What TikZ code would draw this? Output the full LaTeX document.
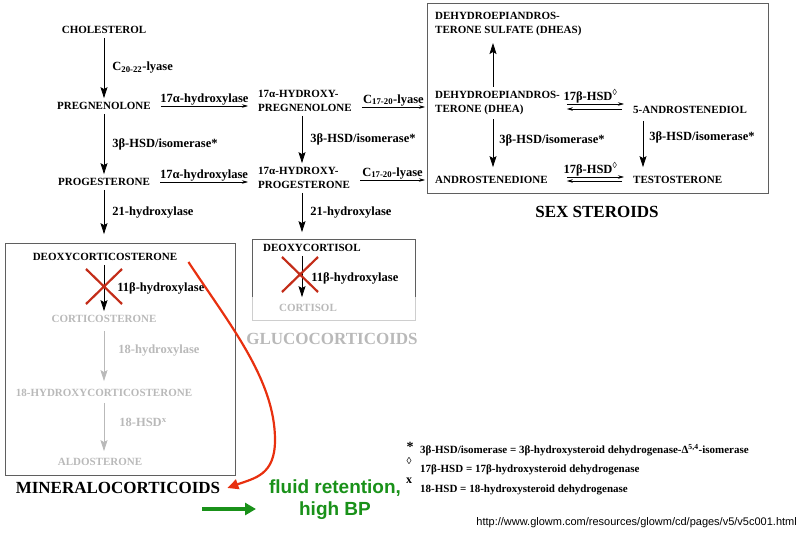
\documentclass[tikz,border=0pt]{standalone}
\usepackage{fontspec}
\setmainfont{Liberation Serif}
\newfontfamily\urlfont{Liberation Sans}
\usetikzlibrary{arrows.meta}
\definecolor{faded}{RGB}{185,185,185}
\definecolor{boxgray}{RGB}{95,95,95}
\definecolor{xred}{RGB}{195,45,25}
\definecolor{cred}{RGB}{232,48,15}
\definecolor{bpgreen}{RGB}{25,145,25}

\begin{document}
\begin{tikzpicture}[x=1pt,y=-1pt,
  cmpd/.style={font=\fontsize{11}{14}\selectfont\bfseries, inner sep=1pt},
  enz/.style={font=\fontsize{12.5}{14}\selectfont\bfseries, inner sep=1pt},
  note/.style={font=\fontsize{11}{13}\selectfont\bfseries, inner sep=0pt, anchor=west},
  grp/.style={font=\fontsize{17}{19}\selectfont\bfseries, inner sep=1pt},
  varr/.style={-{Stealth[length=11pt,width=7pt,inset=2pt]}, line width=0.8pt, shorten <=3pt, shorten >=3pt},
  harr/.style={-{Stealth[length=6pt,width=3.5pt]}, line width=0.6pt, shorten <=9pt, shorten >=9pt},
  xmark/.style={xred, line width=2.2pt},
]
\useasboundingbox (0,0) rectangle (796,541);
\coordinate (colA) at (104,0);
\coordinate (colB) at (302,0);
\coordinate (colC) at (493,0);
\coordinate (colD) at (643,0);

\draw[boxgray] (5,243) rectangle (235,475);
\draw[boxgray] (252,297) -- (252,239) -- (415,239) -- (415,297);
\draw[faded!70] (252,297) -- (252,320) -- (415,320) -- (415,297);
\draw[boxgray] (427,3) rectangle (768,193);

\node[cmpd] (chol) at (104,30) {CHOLESTEROL};
\node[cmpd] (preg) at (104,106) {PREGNENOLONE};
\node[cmpd] (prog) at (104,182) {PROGESTERONE};
\node[cmpd] (doc) at (105,257) {DEOXYCORTICOSTERONE};
\node[cmpd,text=faded] (cort) at (104,319) {CORTICOSTERONE};
\node[cmpd,text=faded] (hcort) at (104,393) {18-HYDROXYCORTICOSTERONE};
\node[cmpd,text=faded] (aldo) at (100,462) {ALDOSTERONE};
\node[cmpd,anchor=west,align=left] (hpreg) at (257,101) {17α-HYDROXY-\\PREGNENOLONE};
\node[cmpd,anchor=west,align=left] (hprog) at (257,178) {17α-HYDROXY-\\PROGESTERONE};
\node[cmpd,anchor=west] (dcort) at (262,248) {DEOXYCORTISOL};
\node[cmpd,text=faded] (cortisol) at (308,308) {CORTISOL};
\node[cmpd,anchor=west,align=left] (dheas) at (434,24) {DEHYDROEPIANDROS-\\TERONE SULFATE (DHEAS)};
\node[cmpd,anchor=west,align=left] (dhea) at (434,103) {DEHYDROEPIANDROS-\\TERONE (DHEA)};
\node[cmpd,anchor=west] (adiol) at (632,110) {5-ANDROSTENEDIOL};
\node[cmpd,anchor=west] (adione) at (434,180) {ANDROSTENEDIONE};
\node[cmpd,anchor=west] (testo) at (632,180) {TESTOSTERONE};

\node[grp] (mineral) at (118,488) {MINERALOCORTICOIDS};
\node[grp,text=faded] (gluco) at (332,339) {GLUCOCORTICOIDS};
\node[grp] (sex) at (597,212) {SEX STEROIDS};

\draw[varr] (chol) -- (preg) node[enz,midway,right=7pt] {C\textsubscript{20-22}-lyase};
\draw[varr] (preg) -- (prog) node[enz,midway,right=7pt] {3β-HSD/isomerase*};
\draw[varr,shorten >=18pt] (prog) -- (colA |- doc.north) node[enz,pos=0.4,right=7pt] {21-hydroxylase};
\draw[varr] (colA |- doc.south) -- (colA |- cort.north) node[enz,midway,right=12pt] {11β-hydroxylase};
\draw[varr,faded,shorten <=7pt,shorten >=7pt] (colA |- cort.south) -- (colA |- hcort.north) node[enz,pos=0.42,right=13pt] {18-hydroxylase};
\draw[varr,faded,shorten <=5pt,shorten >=6pt] (colA |- hcort.south) -- (colA |- aldo.north) node[enz,pos=0.42,right=14pt] {18-HSD\textsuperscript{x}};

\draw[varr] (colB |- hpreg.south) -- (colB |- hprog.north) node[enz,midway,right=7pt] {3β-HSD/isomerase*};
\draw[varr,shorten >=11pt] (colB |- hprog.south) -- (colB |- dcort.north) node[enz,pos=0.43,right=7pt] {21-hydroxylase};
\draw[varr,shorten >=6pt] (colB |- dcort.south) -- (colB |- cortisol.north) node[enz,midway,right=8pt] {11β-hydroxylase};

\draw[harr] (preg.east) -- (preg.east -| hpreg.west) node[enz,midway,above] {17α-hydroxylase};
\draw[harr] (prog.east) -- (prog.east -| hprog.west) node[enz,midway,above] {17α-hydroxylase};
\draw[harr] ([yshift=-6pt]hpreg.east) -- ([yshift=-6pt]hpreg.east -| dhea.west) node[enz,midway,above] {C\textsubscript{17-20}-lyase};
\draw[harr] (hprog.east |- adione.west) -- (adione.west) node[enz,midway,above] {C\textsubscript{17-20}-lyase};

\draw[varr,shorten >=6pt] (colC |- dhea.north) -- (colC |- dheas.south);
\draw[varr,shorten >=8pt] (colC |- dhea.south) -- (colC |- adione.north) node[enz,pos=0.42,right=5pt] {3β-HSD/isomerase*};
\draw[varr,shorten <=6pt,shorten >=8pt] (colD |- adiol.south) -- (colD |- testo.north) node[enz,pos=0.38,right=5pt] {3β-HSD/isomerase*};

\draw[harr,shorten <=18pt,shorten >=8pt] ([yshift=6pt]adiol.west -| adione.east) -- ([yshift=6pt]adiol.west) node[enz,midway,above] {17β-HSD\textsuperscript{◊}};
\draw[harr,shorten <=10pt,shorten >=18pt] ([yshift=1pt]adiol.west) -- ([yshift=1pt]adiol.west -| adione.east);
\draw[harr,shorten <=18pt,shorten >=8pt] ([yshift=3pt]adione.east) -- ([yshift=3pt]adione.east -| testo.west) node[enz,midway,above] {17β-HSD\textsuperscript{◊}};
\draw[harr,shorten <=10pt,shorten >=18pt] ([yshift=-1pt]adione.east -| testo.west) -- ([yshift=-1pt]adione.east);

\draw[xmark] (86,269) -- (122,304) (122,269) -- (86,304);
\draw[xmark] (282,257) -- (318,292) (318,257) -- (282,292);

\draw[cred, line width=2.2pt, -{Triangle[length=11pt,width=10pt]}] ([shift={(10,5)}]doc.east) .. controls (230,325) and (275,380) .. (275,440) .. controls (275,475) and (255,478) .. ([xshift=6pt]mineral.east);

\coordinate (gA) at (202,509);
\coordinate (gB) at (256,509);
\draw[bpgreen, line width=3.5pt, -{Triangle[length=11pt,width=12pt]}] (gA) -- (gB);
\node[font=\urlfont\fontsize{19}{22}\selectfont\bfseries, text=bpgreen, align=center] (bp) at (335,500) {fluid retention,\\high BP};

\node[font=\fontsize{14}{14}\selectfont\bfseries, inner sep=0pt] (fnstar) at (410,447) {*};
\node[font=\fontsize{10}{10}\selectfont\bfseries, inner sep=0pt] (fnloz) at (409,461) {◊};
\node[font=\fontsize{12}{12}\selectfont\bfseries, inner sep=0pt] (fnx) at (409,481) {x};
\node[note] (fn1) at (420,450) {3β-HSD/isomerase = 3β-hydroxysteroid dehydrogenase-Δ\textsuperscript{5,4}-isomerase};
\node[note] (fn2) at (420,470) {17β-HSD = 17β-hydroxysteroid dehydrogenase};
\node[note] (fn3) at (420,490) {18-HSD = 18-hydroxysteroid dehydrogenase};
\node[font=\urlfont\fontsize{11}{12}\selectfont, anchor=east, inner sep=0pt] (url) at (797,523) {http://www.glowm.com/resources/glowm/cd/pages/v5/v5c001.html};
\end{tikzpicture}
\end{document}
